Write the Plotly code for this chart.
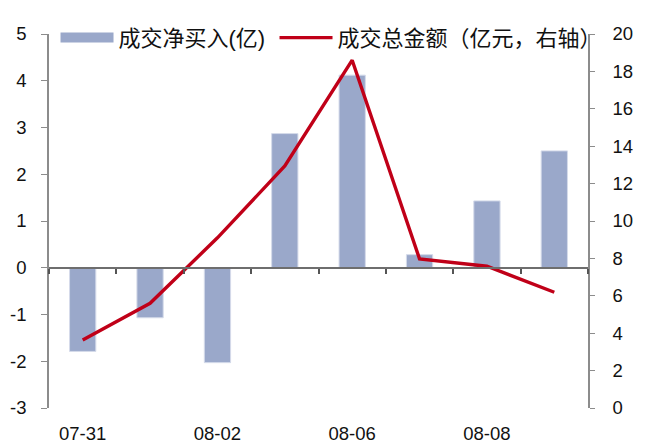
import plotly.graph_objects as go

dates = ["07-31", "08-01", "08-02", "08-05", "08-06", "08-07", "08-08", "08-09"]
net_buy = [-1.79, -1.07, -2.03, 2.87, 4.12, 0.28, 1.43, 2.50]
turnover = [3.64, 5.6, 9.1, 12.94, 18.6, 7.97, 7.58, 6.19]
label_dates = ["07-31", "08-02", "08-06", "08-08"]
left_ticks = [-3, -2, -1, 0, 1, 2, 3, 4, 5]
left_tick_text = ["-3", "-2", "-1", "0", "1", "2", "3", "4", "5"]
bar_name = "成交净买入(亿)"
line_name = "成交总金额（亿元，右轴）"

BAR_C = "#9AA8CA"
LINE_C = "#C00018"
AX_C = "#8C8C8C"
FONT = "Liberation Sans, Arial, Noto Sans CJK SC, sans-serif"

fig = go.Figure()
fig.add_trace(go.Bar(
    x=dates, y=net_buy, name=bar_name,
    marker=dict(color=BAR_C, line=dict(color="#D5DBEA", width=1)),
    width=0.39, xaxis="x", yaxis="y", showlegend=False,
))
# legend swatch for the bars (wide rectangle as in the original)
fig.add_trace(go.Scatter(
    x=[None], y=[None], name=bar_name, mode="lines",
    line=dict(color=BAR_C, width=10), xaxis="x", yaxis="y", legend="legend",
    hoverinfo="skip",
))
fig.add_trace(go.Scatter(
    x=dates, y=turnover, name=line_name,
    mode="lines", line=dict(color=LINE_C, width=3.4),
    xaxis="x2", yaxis="y2", legend="legend2",
))

leg_common = dict(orientation="h", xanchor="left", y=1.046, yanchor="top",
                  bgcolor="rgba(0,0,0,0)", font=dict(size=22), itemwidth=53)

fig.update_layout(
    width=670, height=443,
    margin=dict(l=49, r=82, t=34, b=35, autoexpand=False),
    paper_bgcolor="white", plot_bgcolor="white",
    font=dict(family=FONT, size=18.5, color="#111111"),
    showlegend=True,
    legend=dict(x=0.0121, **leg_common),
    legend2=dict(x=0.4184, **leg_common),
    xaxis=dict(
        type="category", categoryorder="array", categoryarray=dates,
        range=[-0.5, 7.5], tickmode="array", tickvals=label_dates, ticktext=label_dates,
        ticks="", showline=False, showgrid=False, zeroline=False,
        ticklabelstandoff=12, automargin=False,
    ),
    xaxis2=dict(
        type="category", categoryorder="array", categoryarray=dates,
        range=[-0.5, 7.5], overlaying="x", anchor="free", position=0.375,
        showticklabels=False, ticks="outside", tickson="boundaries", ticklen=5,
        tickcolor="#555555", tickwidth=1.5, automargin=False,
        showline=True, linecolor="#6E6E6E", linewidth=1.5, showgrid=False, zeroline=False,
    ),
    yaxis=dict(
        range=[-3, 5], tickmode="array", tickvals=left_ticks, ticktext=left_tick_text,
        showgrid=False, zeroline=False, automargin=False,
        showline=True, linecolor=AX_C, linewidth=1.5, ticks="outside", ticklen=6,
        tickcolor=AX_C, ticklabelstandoff=11,
    ),
    yaxis2=dict(
        range=[0, 20], dtick=2, tick0=0, overlaying="y", side="right", anchor="x",
        showgrid=False, zeroline=False, showline=True, linecolor=AX_C, linewidth=1.5,
        ticks="outside", ticklen=5, tickcolor=AX_C, ticklabelstandoff=14, automargin=False,
    ),
)

fig.write_html("out.html")
